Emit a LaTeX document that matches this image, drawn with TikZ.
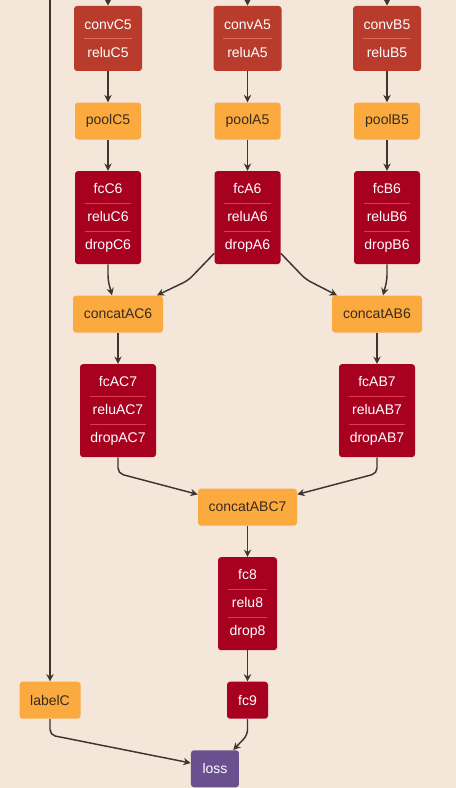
\documentclass[tikz,border=0pt]{standalone}
\usepackage{fontspec}
\setmainfont{Liberation Sans}
\usetikzlibrary{positioning,calc,arrows.meta}
\definecolor{bgcol}{HTML}{F5E6DA}
\definecolor{convcol}{HTML}{B93B2C}
\definecolor{fccol}{HTML}{A8001F}
\definecolor{poolcol}{HTML}{FBAA3F}
\definecolor{losscol}{HTML}{6B5090}
\definecolor{edgecol}{HTML}{3E3530}
\definecolor{pooltext}{HTML}{3A2A1E}
\definecolor{convsep}{HTML}{DE6A5A}
\definecolor{fcsep}{HTML}{E4384F}

\begin{document}
\begin{tikzpicture}[x=0.75pt, y=-0.75pt, node distance=23.25pt,
        layer/.style={rectangle, rounded corners=2.25pt, inner sep=0pt, align=center, font=\fontsize{10.5}{21}\selectfont},
        convnode/.style={layer, fill=convcol, text=white, minimum width=51pt, minimum height=48.75pt},
        fcnode/.style={layer, fill=fccol, text=white, minimum height=69.75pt},
        poolnode/.style={layer, fill=poolcol, text=pooltext, minimum height=27.75pt},
        lossnode/.style={layer, fill=losscol, text=white, minimum width=36pt, minimum height=27.75pt},
        edge/.style={draw=edgecol, line width=1.1pt, rounded corners=4pt, -{Stealth[length=5.5pt, width=5.5pt, inset=1.8pt]}},
        sepline/.style={line width=0.6pt},
]
        \useasboundingbox (0,0) rectangle (456,788);
        \fill[bgcol] (0,0) rectangle (456,788);

        \node[convnode] (convC5) at (108,38.5) {convC5\\reluC5};
        \node[convnode] (convA5) at (247.5,38.5) {convA5\\reluA5};
        \node[convnode] (convB5) at (387,38.5) {convB5\\reluB5};
        \node[poolnode, minimum width=49.5pt] (poolC5) [below=of convC5] {poolC5};
        \node[poolnode, minimum width=49.5pt] (poolA5) [below=of convA5] {poolA5};
        \node[poolnode, minimum width=49.5pt] (poolB5) [below=of convB5] {poolB5};
        \node[fcnode, minimum width=49.5pt] (fcC6) [below=of poolC5] {fcC6\\reluC6\\dropC6};
        \node[fcnode, minimum width=49.5pt] (fcA6) [below=of poolA5] {fcA6\\reluA6\\dropA6};
        \node[fcnode, minimum width=49.5pt] (fcB6) [below=of poolB5] {fcB6\\reluB6\\dropB6};
        \node[poolnode, minimum width=67.5pt] (concatAC6) [below=of fcC6, xshift=7.5pt] {concatAC6};
        \node[poolnode, minimum width=67.5pt] (concatAB6) [below=of fcB6, xshift=-7.5pt] {concatAB6};
        \node[fcnode, minimum width=57pt] (fcAC7) [below=of concatAC6] {fcAC7\\reluAC7\\dropAC7};
        \node[fcnode, minimum width=57pt] (fcAB7) [below=of concatAB6] {fcAB7\\reluAB7\\dropAB7};
        \coordinate (mid7) at ($(fcAC7.south)!0.5!(fcAB7.south)$);
        \node[poolnode, minimum width=74.25pt] (concatABC7) [below=of mid7] {concatABC7};
        \node[fcnode, minimum width=44.25pt] (fc8) [below=of concatABC7] {fc8\\relu8\\drop8};
        \node[fcnode, minimum width=30.75pt, minimum height=27.75pt] (fc9) [below=of fc8] {fc9};
        \coordinate (inL) at (50,-4);
        \node[poolnode, minimum width=45.75pt] (labelC) at (inL |- fc9) {labelC};
        \node[lossnode] (loss) [below=of fc9, xshift=-24.4pt] {loss};

        \foreach \n in {convC5,convA5,convB5}
                \draw[sepline, convsep] ([xshift=7.5pt]\n.west) -- ([xshift=-7.5pt]\n.east);
        \foreach \n in {fcC6,fcA6,fcB6,fcAC7,fcAB7,fc8} {
                \draw[sepline, fcsep] ([xshift=7.5pt, yshift=10.5pt]\n.west) -- ([xshift=-7.5pt, yshift=10.5pt]\n.east);
                \draw[sepline, fcsep] ([xshift=7.5pt, yshift=-10.5pt]\n.west) -- ([xshift=-7.5pt, yshift=-10.5pt]\n.east);
        }

        \coordinate (inC) at (108,-4);
        \coordinate (inA) at (247.5,-4);
        \coordinate (inB) at (387,-4);
        \draw[edge] (inC) -- (convC5);
        \draw[edge] (inA) -- (convA5);
        \draw[edge] (inB) -- (convB5);
        \draw[edge] (inL) -- (labelC);
        \draw[edge] (convC5) -- (poolC5);
        \draw[edge] (convA5) -- (poolA5);
        \draw[edge] (convB5) -- (poolB5);
        \draw[edge] (poolC5) -- (fcC6);
        \draw[edge] (poolA5) -- (fcA6);
        \draw[edge] (poolB5) -- (fcB6);
        \draw[edge] (fcC6.south) -- ++(0,16) -- ([xshift=-4.5pt]concatAC6.north);
        \draw[edge] ([yshift=8.25pt]fcA6.south west) -- ++(-26,27) -- ([xshift=29.25pt]concatAC6.north);
        \draw[edge] ([yshift=8.25pt]fcA6.south east) -- ++(25,26) -- ([xshift=-30pt]concatAB6.north);
        \draw[edge] (fcB6.south) -- ++(0,16) -- ([xshift=4.5pt]concatAB6.north);
        \draw[edge] (concatAC6) -- (fcAC7);
        \draw[edge] (concatAB6) -- (fcAB7);
        \draw[edge] (fcAC7.south) -- ++(0,16) -- ([yshift=-4.5pt]concatABC7.north west);
        \draw[edge] (fcAB7.south) -- ++(0,16) -- ([yshift=-4.5pt]concatABC7.north east);
        \draw[edge] (concatABC7) -- (fc8);
        \draw[edge] (fc8) -- (fc9);
        \draw[edge] (labelC.south) -- ++(0,16) -- ([yshift=-9.75pt]loss.north west);
        \draw[edge] (fc9.south) -- ++(0,16) -- ([xshift=-4.5pt]loss.north east);
    \end{tikzpicture}
\end{document}
